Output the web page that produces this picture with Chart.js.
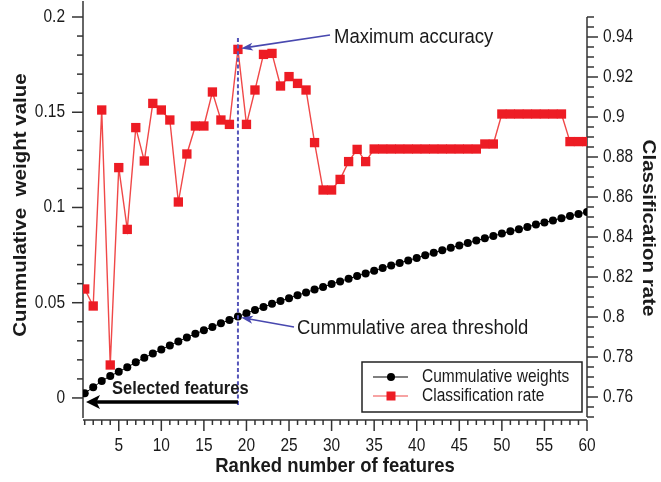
<!DOCTYPE html>
<html lang="en">
<head>
<meta charset="UTF-8">
<title>Cummulative weights / Classification rate</title>
<script src="https://cdn.jsdelivr.net/npm/chart.js@4"></script>
<style>
    body { margin: 0; background: #fff; }
    #grafico { display: block; }
</style>
</head>
<body>
<canvas id="grafico" width="661" height="482"></canvas>

<script>
    const features = [1, 2, 3, 4, 5, 6, 7, 8, 9, 10, 11, 12, 13, 14, 15, 16, 17, 18, 19, 20,
        21, 22, 23, 24, 25, 26, 27, 28, 29, 30, 31, 32, 33, 34, 35, 36, 37, 38, 39, 40,
        41, 42, 43, 44, 45, 46, 47, 48, 49, 50, 51, 52, 53, 54, 55, 56, 57, 58, 59, 60];

    const cumWeights = [0.0025, 0.0056, 0.0089, 0.0115, 0.0138, 0.0161, 0.0187, 0.0211, 0.0233, 0.0255,
        0.0276, 0.0297, 0.0318, 0.0337, 0.0355, 0.0373, 0.0392, 0.0409, 0.0427, 0.0445,
        0.0462, 0.0478, 0.0494, 0.0509, 0.0524, 0.0539, 0.0554, 0.0569, 0.0583, 0.0598,
        0.0612, 0.0626, 0.064, 0.0654, 0.0668, 0.0682, 0.0695, 0.0709, 0.0722, 0.0735,
        0.0749, 0.0762, 0.0775, 0.0788, 0.0801, 0.0813, 0.0826, 0.0838, 0.085, 0.0863,
        0.0875, 0.0886, 0.0898, 0.091, 0.0921, 0.0932, 0.0944, 0.0955, 0.0966, 0.0976];

    const classRate = [0.814, 0.8055, 0.9035, 0.776, 0.8747, 0.8438, 0.8947, 0.878, 0.9068, 0.9035,
        0.8985, 0.8575, 0.8815, 0.8955, 0.8955, 0.9125, 0.8985, 0.8963, 0.9338, 0.8963,
        0.9135, 0.9313, 0.9318, 0.9155, 0.9202, 0.9168, 0.9135, 0.8872, 0.8635, 0.8635,
        0.8688, 0.8777, 0.8838, 0.8777, 0.884, 0.884, 0.884, 0.884, 0.884, 0.884,
        0.884, 0.884, 0.884, 0.884, 0.884, 0.884, 0.884, 0.8865, 0.8865, 0.9015,
        0.9015, 0.9015, 0.9015, 0.9015, 0.9015, 0.9015, 0.9015, 0.8877, 0.8877, 0.8877];

    const xTickLabels = ['5', '10', '15', '20', '25', '30', '35', '40', '45', '50', '55', '60'];
    const leftTickLabels = ['0', '0.05', '0.1', '0.15', '0.2'];
    const rightTickLabels = ['0.76', '0.78', '0.8', '0.82', '0.84', '0.86', '0.88', '0.9', '0.92', '0.94'];
    const selectedFeature = 19;

    const FONTE = "'Liberation Sans', Arial, sans-serif";
    const ESTICA = 1.14; // the picture is a bit taller than wide

    function texto(ctx, str, x, y, font, align, rot) {
        ctx.save();
        ctx.translate(x, y);
        ctx.scale(1, ESTICA);
        ctx.rotate(rot || 0);
        ctx.font = font;
        ctx.fillStyle = '#1a1a1a';
        ctx.textAlign = align || 'center';
        ctx.textBaseline = 'middle';
        ctx.fillText(str, 0, 0);
        ctx.restore();
    }

    function linha(ctx, x1, y1, x2, y2) {
        ctx.beginPath();
        ctx.moveTo(x1, y1);
        ctx.lineTo(x2, y2);
        ctx.stroke();
    }

    function seta(ctx, x1, y1, x2, y2, cor, larg, cab, meia) {
        const ang = Math.atan2(y2 - y1, x2 - x1);
        const c = Math.cos(ang), s = Math.sin(ang);
        ctx.strokeStyle = cor;
        ctx.fillStyle = cor;
        ctx.lineWidth = larg;
        linha(ctx, x1, y1, x2 - c * cab * 0.7, y2 - s * cab * 0.7);
        ctx.beginPath();
        ctx.moveTo(x2, y2);
        ctx.lineTo(x2 - c * cab + s * meia, y2 - s * cab - c * meia);
        ctx.lineTo(x2 - c * cab * 0.75, y2 - s * cab * 0.75);
        ctx.lineTo(x2 - c * cab - s * meia, y2 - s * cab + c * meia);
        ctx.closePath();
        ctx.fill();
    }

    const eixos = {
        id: 'eixos',
        beforeDatasetsDraw(chart) {
            const ctx = chart.ctx;
            const a = chart.chartArea;
            const sx = chart.scales.x, yl = chart.scales.y, yr = chart.scales.y2;
            ctx.save();
            ctx.strokeStyle = '#333';
            ctx.lineWidth = 1.5;

            // left axis
            linha(ctx, a.left, 1, a.left, a.bottom + 1);
            for (let i = 0; i <= 20; i++) {
                const y = yl.getPixelForValue(i / 100);
                linha(ctx, a.left - (i % 5 == 0 ? 11 : 6), y, a.left, y);
            }
            leftTickLabels.forEach(function (t) {
                texto(ctx, t, 65, yl.getPixelForValue(Number(t)), '15.5px ' + FONTE, 'right');
            });

            // right axis
            linha(ctx, a.right, a.top, a.right, a.bottom);
            for (let i = 0; i <= 40; i++) {
                const y = yr.getPixelForValue(0.75 + i * 0.005);
                linha(ctx, a.right, y, a.right + ((i - 2) % 4 == 0 ? 11 : 7), y);
            }
            rightTickLabels.forEach(function (t) {
                texto(ctx, t, 603, yr.getPixelForValue(Number(t)), '15.5px ' + FONTE, 'left');
            });

            // bottom axis, set a little below the plot
            const base = a.bottom + 3;
            linha(ctx, a.left, base, a.right, base);
            for (let i = 1; i <= 60; i++) {
                const x = sx.getPixelForValue(i);
                linha(ctx, x, base, x, base + (i % 5 == 0 ? 11 : 5));
            }
            xTickLabels.forEach(function (t) {
                texto(ctx, t, sx.getPixelForValue(Number(t)), base + 26, '15.5px ' + FONTE, 'center');
            });

            // titles
            texto(ctx, 'Ranked number of features', 335, 466, 'bold 18.5px ' + FONTE, 'center');
            texto(ctx, 'Cummulative  weight value', 21, 205, 'bold 18px ' + FONTE, 'center', -Math.PI / 2);
            texto(ctx, 'Classification rate', 648, 228, 'bold 18px ' + FONTE, 'center', Math.PI / 2);
            ctx.restore();
        },
        afterDatasetsDraw(chart) {
            const ctx = chart.ctx;
            const sx = chart.scales.x, yl = chart.scales.y, yr = chart.scales.y2;
            const xs = sx.getPixelForValue(selectedFeature);
            ctx.save();

            // dashed marker at the selected feature
            ctx.strokeStyle = 'rgb(85, 85, 185)';
            ctx.lineWidth = 2;
            ctx.setLineDash([4, 2.6]);
            linha(ctx, xs, 38, xs, 405);
            ctx.setLineDash([]);

            const yMax = yr.getPixelForValue(classRate[selectedFeature - 1]);
            seta(ctx, 330, 35, xs + 3, yMax - 1, 'rgb(72, 72, 175)', 1.6, 12, 4);
            texto(ctx, 'Maximum accuracy', 334, 37, '18.5px ' + FONTE, 'left');

            const yCum = yl.getPixelForValue(cumWeights[selectedFeature - 1]);
            seta(ctx, 294, 327, xs + 3, yCum + 1, 'rgb(72, 72, 175)', 1.6, 12, 4);
            texto(ctx, 'Cummulative area threshold', 297, 328, '18.5px ' + FONTE, 'left');

            seta(ctx, xs, 402, 86, 402, '#000', 3.5, 14, 7);
            texto(ctx, 'Selected features', 112, 389, 'bold 16.5px ' + FONTE, 'left');

            // legend
            ctx.fillStyle = '#fff';
            ctx.fillRect(362, 362, 220, 50);
            ctx.strokeStyle = '#222';
            ctx.lineWidth = 1.5;
            ctx.strokeRect(362, 362, 220, 50);

            ctx.strokeStyle = '#000';
            ctx.lineWidth = 1.2;
            linha(ctx, 373, 377, 408, 377);
            ctx.fillStyle = '#000';
            ctx.beginPath();
            ctx.arc(391, 377, 4, 0, Math.PI * 2);
            ctx.fill();
            texto(ctx, 'Cummulative weights', 422, 377, '15.5px ' + FONTE, 'left');

            ctx.strokeStyle = 'rgb(240, 72, 72)';
            linha(ctx, 373, 396, 408, 396);
            ctx.fillStyle = 'rgb(237, 28, 36)';
            ctx.fillRect(386.5, 391.5, 9, 9);
            texto(ctx, 'Classification rate', 422, 396, '15.5px ' + FONTE, 'left');
            ctx.restore();
        }
    };

    new Chart(document.getElementById('grafico'), {
        type: 'line',
        data: {
            datasets: [{
                label: 'Cummulative weights',
                data: features.map(function (f, i) { return { x: f, y: cumWeights[i] }; }),
                yAxisID: 'y',
                order: 1,
                clip: { left: 0, right: 0, top: 10, bottom: 10 },
                borderColor: '#000',
                backgroundColor: '#000',
                borderWidth: 1,
                pointStyle: 'circle',
                pointRadius: 4,
                pointBorderWidth: 0
            }, {
                label: 'Classification rate',
                data: features.map(function (f, i) { return { x: f, y: classRate[i] }; }),
                yAxisID: 'y2',
                order: 0,
                clip: { left: 0, right: 0, top: 10, bottom: 10 },
                borderColor: 'rgb(240, 72, 72)',
                backgroundColor: 'rgb(237, 28, 36)',
                borderWidth: 1.4,
                pointStyle: 'rect',
                pointRadius: 6.6,
                pointBorderWidth: 0
            }]
        },
        options: {
            responsive: false,
            animation: false,
            layout: { padding: { left: 83, right: 74, top: 17, bottom: 65 } },
            scales: {
                x: { type: 'linear', min: 0.8, max: 60, display: false },
                y: { min: -0.01, max: 0.2, display: false },
                y2: { min: 0.75, max: 0.95, display: false }
            },
            plugins: {
                legend: { display: false },
                tooltip: { enabled: false }
            }
        },
        plugins: [eixos]
    });
</script>
</body>
</html>
